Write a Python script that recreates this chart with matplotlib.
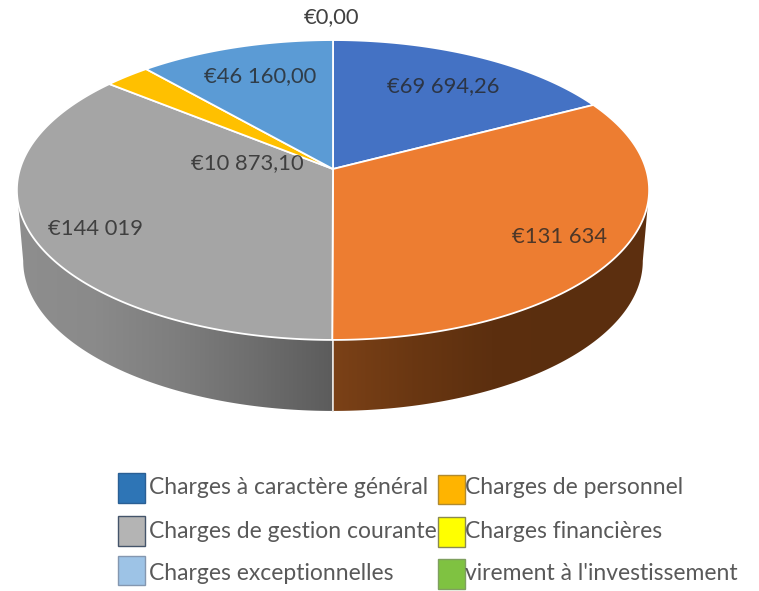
import matplotlib
matplotlib.use('Agg')
import matplotlib.pyplot as plt
import numpy as np
from matplotlib.colors import LinearSegmentedColormap
from matplotlib.patches import Polygon, Rectangle

categories = ["Charges à caractère général", "Charges de personnel", "Charges de gestion courante",
              "Charges financières", "Charges exceptionnelles", "virement à l'investissement"]
values = [69694.26, 131634, 144019, 10873.10, 46160.00, 0]
value_labels = ["€69 694,26", "€131 634", "€144 019", "€10 873,10", "€46 160,00", "€0,00"]
slice_colors = ['#4472c4', '#ed7d31', '#a5a5a5', '#ffc000', '#5b9bd5', '#70ad47']
legend_colors = ['#2e75b6', '#ffb400', '#b4b4b4', '#ffff00', '#9dc3e6', '#7fc241']
legend_edges = ['#2a5f94', '#b08a30', '#44546a', '#8a8a50', '#8497b0', '#7f9f60']

# projection of the tilted disc, in pixels
CX, CY = 333, 169
A, B, K = 313, 147, 0.14
DEPTH = 71
BOTTOM_SCALE = 0.98


def project(angles):
    u, v = np.sin(angles), np.cos(angles)
    return CX + A * u / (1 + K * v), CY - B * v / (1 + K * v)


def arc(start, end):
    n = max(2, int(abs(end - start) * 120))
    return project(np.linspace(start, end, n))


fig = plt.figure(figsize=(7.59, 5.91), dpi=100)
ax = fig.add_axes([0, 0, 1, 1])
ax.set_xlim(0, 759)
ax.set_ylim(591, 0)
ax.axis('off')

plt.rcParams['font.family'] = ['Lato', 'DejaVu Sans']

edges = np.cumsum([0] + values) / sum(values) * 2 * np.pi

# the rim, only the front half shows
side_grey = LinearSegmentedColormap.from_list('g', ['#8e8e8e', '#8a8a8a', '#7e7e7e', '#6e6e6e', '#5c5c5c'])
side_brown = LinearSegmentedColormap.from_list('b', ['#7b4117', '#6a3712', '#5c2f0f', '#5a2e0e', '#5e3010'])
for start, end, cmap, extent in [(edges[1], edges[2], side_brown, (333, 650)), (edges[2], edges[3], side_grey, (17, 333))]:
    a0 = max(start, np.pi / 2 + K)
    a1 = min(end, 3 * np.pi / 2 - K)
    xs, ys = arc(a0, a1)
    bottom_x = CX + (xs - CX) * BOTTOM_SCALE
    poly = np.column_stack([np.r_[xs, bottom_x[::-1]], np.r_[ys, ys[::-1] + DEPTH]])
    patch = Polygon(poly, closed=True, facecolor='none', edgecolor='none')
    ax.add_patch(patch)
    im = ax.imshow(np.linspace(0, 1, 256).reshape(1, -1), cmap=cmap, aspect='auto',
                   extent=(extent[0], extent[1], 430, 150), zorder=1)
    im.set_clip_path(patch)
ax.plot([333, 333], [340, 411], color='#e8e4e0', lw=1.2, zorder=2)
ax.set_xlim(0, 759)
ax.set_ylim(591, 0)

# top face
for i in range(len(values)):
    if values[i] == 0:
        continue
    xs, ys = arc(edges[i], edges[i + 1])
    ax.add_patch(Polygon(np.column_stack([np.r_[CX, xs], np.r_[CY, ys]]), closed=True,
                         facecolor=slice_colors[i], edgecolor='white', lw=1.3, zorder=3, joinstyle='round'))

# value labels
label_pos = [(443, 86), (560, 237), (95, 229), (247, 163), (260, 76), (332, 17)]
for i, (text, (x, y)) in enumerate(zip(value_labels, label_pos)):
    on_slice = i < 5
    ax.text(x, y, text, ha='center', va='center', fontsize=15.8, zorder=5,
            color='#262626' if on_slice else '#404040', alpha=0.8 if on_slice else 1)

# legend
swatches = [(118, 473, 503), (438, 475, 504), (118, 516, 546), (438, 517, 547), (118, 556, 585), (438, 559, 589)]
text_y = [488, 488, 532, 532, 573, 573]
for i, (name, (x, y0, y1)) in enumerate(zip(categories, swatches)):
    ax.add_patch(Rectangle((x, y0), 27, y1 - y0, facecolor=legend_colors[i], edgecolor=legend_edges[i], lw=1, zorder=5))
    ax.text(x + 31 - (4 if i % 2 else 0), text_y[i], name, ha='left', va='center', fontsize=16.5, color='#595959', zorder=5)

fig.savefig('out.png', dpi=100)
